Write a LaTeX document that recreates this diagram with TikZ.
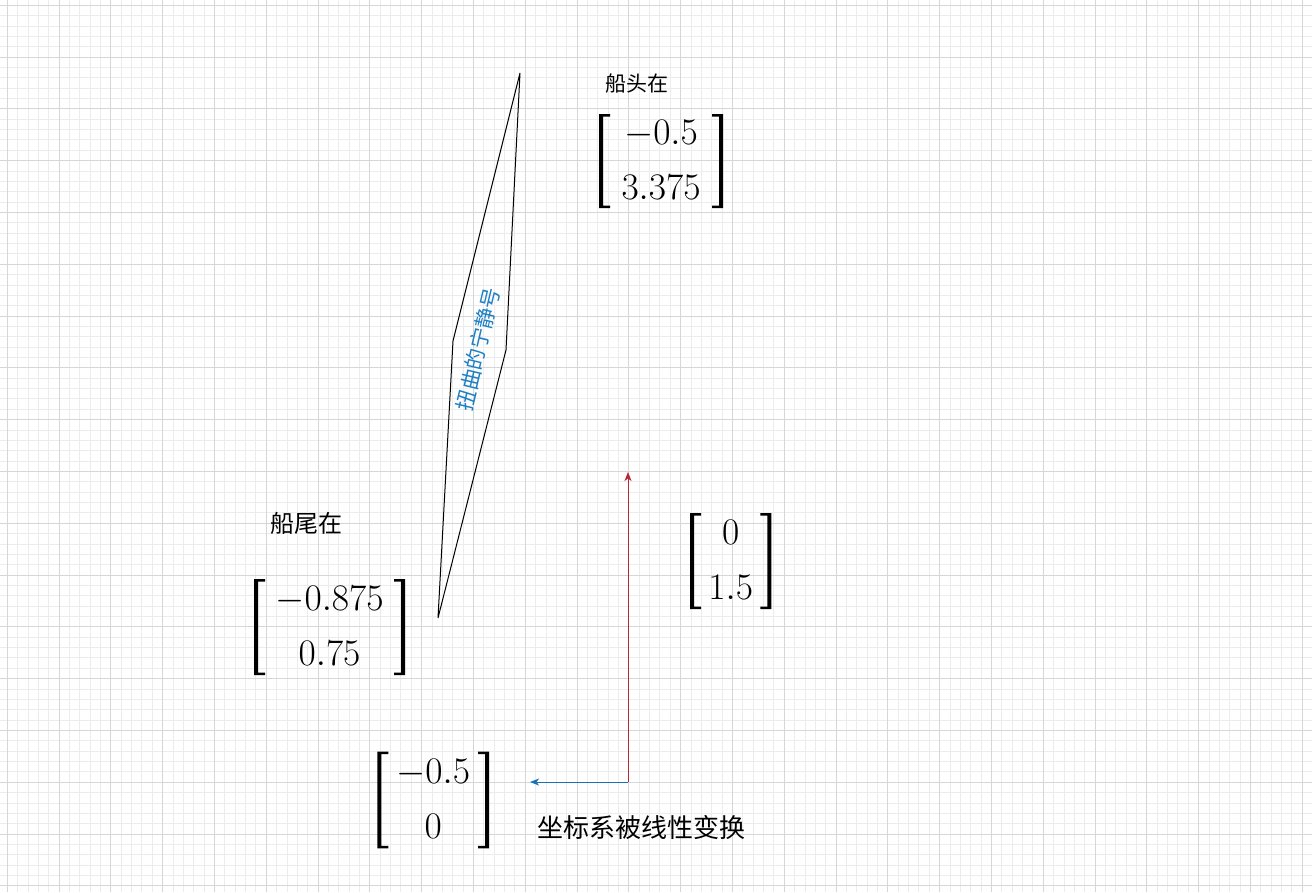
\RequirePackage{fix-cm}
\documentclass[tikz,border=0pt]{standalone}
\usepackage{amsmath}
\usepackage{fontspec}
\newfontfamily\cjk{Noto Sans CJK SC}
\usetikzlibrary{arrows.meta}
\definecolor{gridminor}{RGB}{236,236,236}
\definecolor{gridmajor}{RGB}{214,214,214}
\definecolor{vecred}{RGB}{184,38,56}
\definecolor{vecblue}{RGB}{22,114,184}
\definecolor{labelblue}{RGB}{30,128,196}
\tikzset{
  minorline/.style={draw=gridminor,line width=1pt},
  majorline/.style={draw=gridmajor,line width=1pt},
  hull/.style={draw=black,line width=1pt,line join=miter},
  cjklabel/.style={inner sep=0pt,font=\cjk},
  mat/.style={inner sep=0pt},
  vecarrow/.style={line width=1pt,-{Stealth[length=9pt,width=7pt,inset=2.5pt]}},
}
\newcommand{\matfont}{\fontsize{37.5}{55}\selectfont}
% brackets around a matrix node: name, half width (stem centre), half height
\newcommand{\matbrackets}[3]{%
  \begin{scope}[shift={(#1.center)}]
    \fill[black] (-#2-2,-#3) -- (-#2+9,-#3) -- (-#2+9,-#3+2.5) -- (-#2+2,-#3+2.5)
      -- (-#2+2,#3-2.5) -- (-#2+9,#3-2.5) -- (-#2+9,#3) -- (-#2-2,#3) -- cycle;
    \fill[black] (#2+2,-#3) -- (#2-9,-#3) -- (#2-9,-#3+2.5) -- (#2-2,-#3+2.5)
      -- (#2-2,#3-2.5) -- (#2-9,#3-2.5) -- (#2-9,#3) -- (#2+2,#3) -- cycle;
  \end{scope}}
\begin{document}
\begin{tikzpicture}[x=1pt,y=-1pt]
\useasboundingbox (0,0) rectangle (1312,892);
\fill[white] (0,0) rectangle (1312,892);
% grid
\foreach \i in {0,...,127} \draw[minorline] ({-3.06+10.36*\i},0) -- ++(0,892);
\foreach \i in {0,...,87} \draw[minorline] (0,{-5.06+10.36*\i}) -- ++(1312,0);
\foreach \i in {0,...,25} \draw[majorline] ({7.3+51.8*\i},0) -- ++(0,892);
\foreach \i in {0,...,17} \draw[majorline] (0,{5.3+51.8*\i}) -- ++(1312,0);
% distorted ship
\coordinate (top) at (520,73);
\coordinate (rgt) at (506,350);
\coordinate (bot) at (438,618);
\coordinate (lft) at (453,341);
\draw[hull] (top) -- (rgt) -- (bot) -- (lft) -- cycle;
\node[cjklabel,text=labelblue,font=\cjk\fontsize{21}{24}\selectfont,rotate=76.6] (shipname) at (478,349) {扭曲的宁静号};
% labels
\node[cjklabel,font=\cjk\fontsize{21}{24}\selectfont] (headlbl) at (637,84) {船头在};
\node[cjklabel,font=\cjk\fontsize{24}{28}\selectfont] (taillbl) at (306,523) {船尾在};
\node[cjklabel,font=\cjk\fontsize{26}{30}\selectfont] (transf) at (641,828) {坐标系被线性变换};
% matrices
\node[mat] (mhead) at (661,161) {\matfont$\begin{matrix}-0.5\\3.375\end{matrix}$};
\matbrackets{mhead}{60}{47}
\node[mat] (mtail) at (329.5,627) {\matfont$\begin{matrix}-0.875\\0.75\end{matrix}$};
\matbrackets{mtail}{73.5}{48}
\node[mat] (mj) at (730.7,561) {\matfont$\begin{matrix}0\\1.5\end{matrix}$};
\matbrackets{mj}{38.7}{48}
\node[mat] (mi) at (433.2,800) {\matfont$\begin{matrix}-0.5\\0\end{matrix}$};
\matbrackets{mi}{53.9}{48.3}
% basis vectors
\coordinate (origin) at (628,782);
\coordinate (jtip) at (628,472);
\coordinate (itip) at (530,782);
\draw[vecarrow,vecred] (origin) -- (jtip);
\draw[vecarrow,vecblue] (origin) -- (itip);
\end{tikzpicture}
\end{document}
